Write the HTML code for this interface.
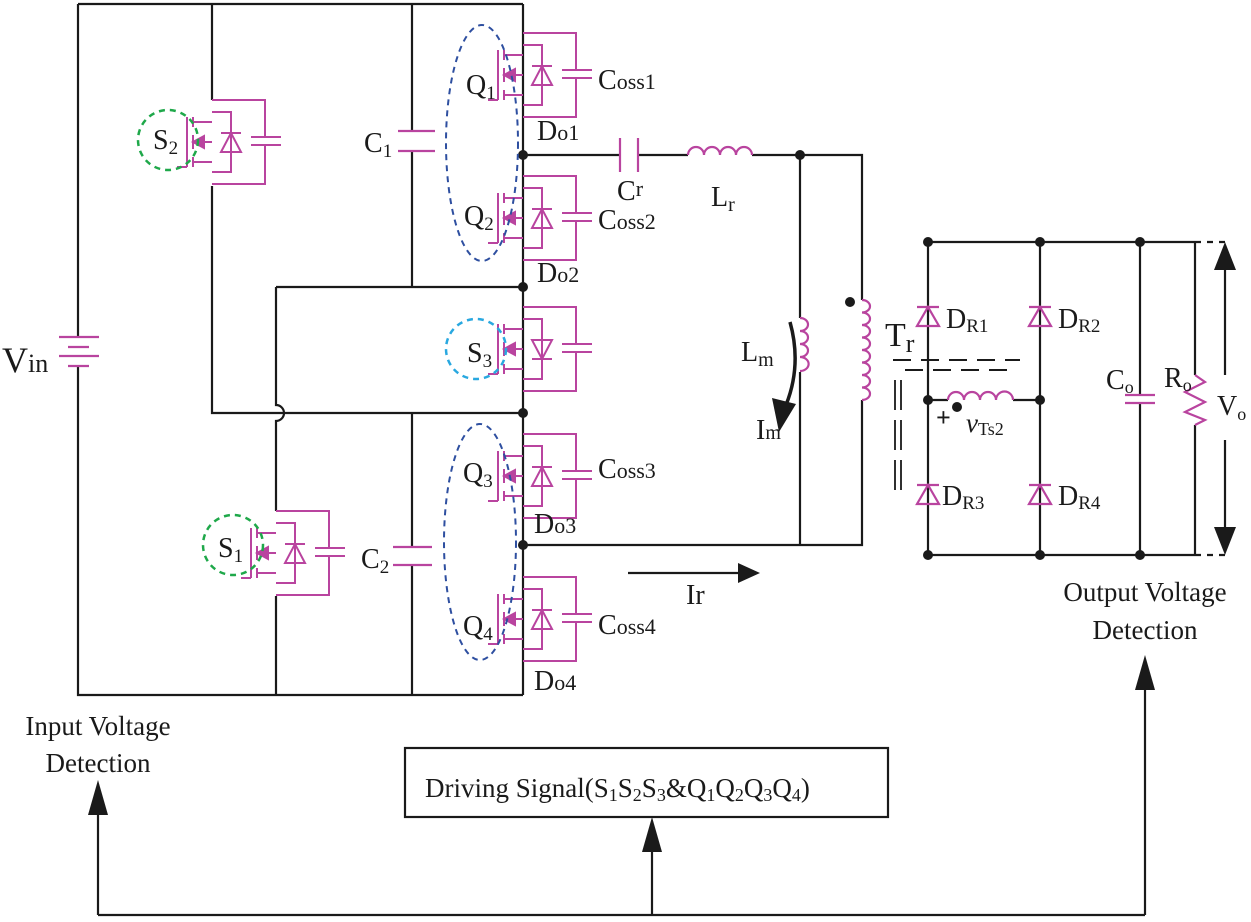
<!DOCTYPE html>
<html><head><meta charset="utf-8"><style>
html,body{margin:0;padding:0;background:#fff;}
svg{display:block;}
text{font-family:"Liberation Serif",serif;fill:#1a1a1a;}
</style></head><body>
<svg width="1251" height="922" viewBox="0 0 1251 922" xmlns="http://www.w3.org/2000/svg">
<defs>
<g id="fet" fill="none" stroke="#b9449f" stroke-width="2">
  <path d="M0,0 H53 V37 M53,45 V84 H0"/>
  <path d="M39,37 H69 M39,45 H69"/>
  <path d="M0,12 H19 V72 H0"/>
  <path d="M9,52 L29,52 L19,33 Z M9,33 H29"/>
  <path d="M-19,17 V27 M-19,35 V49 M-19,57 V67"/>
  <path d="M-25,17 V67 M-35,67 H-25"/>
  <path d="M-19,22 H0 M-19,62 H0 M0,42 H-12"/>
  <path d="M-19,42 L-8,36 L-8,48 Z" fill="#b9449f"/>
</g>
<g id="fetd" fill="none" stroke="#b9449f" stroke-width="2">
  <path d="M0,0 H53 V37 M53,45 V84 H0"/>
  <path d="M39,37 H69 M39,45 H69"/>
  <path d="M0,12 H19 V72 H0"/>
  <path d="M9,33 L29,33 L19,52 Z M9,52 H29"/>
  <path d="M-19,17 V27 M-19,35 V49 M-19,57 V67"/>
  <path d="M-25,17 V67 M-35,67 H-25"/>
  <path d="M-19,22 H0 M-19,62 H0 M0,42 H-12"/>
  <path d="M-19,42 L-8,36 L-8,48 Z" fill="#b9449f"/>
</g>
<g id="dio" fill="none" stroke="#b9449f" stroke-width="2.2">
  <path d="M-11,10 L11,10 L0,-9 Z M-11,-9 H11"/>
</g>
</defs>

<g fill="none" stroke="#1a1a1a" stroke-width="2.2">
  <path d="M78,4 H523"/>
  <path d="M78,4 V337 M78,366 V695 H523"/>
  <path d="M212,4 V100 M212,186 V413 H523"/>
  <path d="M412,4 V131 M412,151 V287"/>
  <path d="M276,287 H523"/>
  <path d="M276,287 V405 A8,8 0 0 1 276,421 V511 M276,596 V695"/>
  <path d="M412,413 V547 M412,565 V695"/>
  <path d="M523,4 V695"/>
  <path d="M523,155 H620 M638,155 H688 M752,155 H862 V300 M862,400 V545 H523"/>
  <path d="M800,155 V318 M800,372 V545"/>
  <path d="M928,242 H1195 M928,555 H1195 M928,242 V555 M1040,242 V555 M1140,242 V395 M1140,403 V555"/>
  <path d="M928,400 H948 M1013,400 H1040"/>
  <path d="M1195,242 V375 M1195,425 V555"/>
  <path d="M1195,242 H1230 M1195,555 H1230" stroke-dasharray="6,6"/>
  <path d="M1225,270 V375 M1225,440 V530"/>
  <path d="M628,573 H745"/>
  <path d="M98,915 H1145 M98,915 V815 M652,915 V850 M1145,915 V690"/>
  <rect x="405" y="748" width="483" height="69"/>
  <path d="M790,322 Q802,365 786,405" stroke-width="3.5"/>
  <path d="M893,360 H1020 M905,370 H1015" stroke-dasharray="18,10" stroke-width="2"/>
  <path d="M895,380 V410 M901,380 V410 M895,420 V450 M901,420 V450 M895,460 V490 M901,460 V490" stroke-width="1.8"/>
</g>
<g fill="#1a1a1a">
  <path d="M760,573 L738,563 L738,583 Z"/>
  <path d="M779,432 L772,398 L796,404 Z"/>
  <path d="M1225,242 L1214,270 L1236,270 Z"/>
  <path d="M1225,555 L1214,527 L1236,527 Z"/>
  <path d="M98,780 L88,815 L108,815 Z"/>
  <path d="M652,817 L642,852 L662,852 Z"/>
  <path d="M1145,655 L1135,690 L1155,690 Z"/>
  <circle cx="523" cy="155" r="5"/><circle cx="523" cy="287" r="5"/>
  <circle cx="523" cy="413" r="5"/><circle cx="523" cy="545" r="5"/>
  <circle cx="800" cy="155" r="5"/><circle cx="850" cy="302" r="5"/>
  <circle cx="928" cy="242" r="5"/><circle cx="1040" cy="242" r="5"/><circle cx="1140" cy="242" r="5"/>
  <circle cx="928" cy="555" r="5"/><circle cx="1040" cy="555" r="5"/><circle cx="1140" cy="555" r="5"/>
  <circle cx="928" cy="400" r="5"/><circle cx="1040" cy="400" r="5"/><circle cx="957" cy="407" r="5"/>
</g>

<g fill="none" stroke="#b9449f" stroke-width="2.2">
  <path d="M59,337 H99 M68,347 H89 M59,356 H99 M68,366 H89"/>
  <path d="M398,131 H435 M398,151 H435"/>
  <path d="M393,547 H432 M393,565 H432"/>
  <path d="M620,138 V172 M638,138 V172"/>
  <path d="M688,155 a8,8 0 0 1 16,0 a8,8 0 0 1 16,0 a8,8 0 0 1 16,0 a8,8 0 0 1 16,0"/>
  <path d="M948,400 a8,8 0 0 1 16,0 a8,8 0 0 1 16,0 a8,8 0 0 1 16,0 a8,8 0 0 1 17,0"/>
  <path d="M800,318 a8,6.5 0 0 1 0,13 a8,6.5 0 0 1 0,13 a8,6.5 0 0 1 0,13 a8,6.5 0 0 1 0,14"/>
  <path d="M862,300 a8,6.25 0 0 1 0,12.5 a8,6.25 0 0 1 0,12.5 a8,6.25 0 0 1 0,12.5 a8,6.25 0 0 1 0,12.5 a8,6.25 0 0 1 0,12.5 a8,6.25 0 0 1 0,12.5 a8,6.25 0 0 1 0,12.5 a8,6.25 0 0 1 0,12.5"/>
  <path d="M1125,395 H1155 M1125,403 H1155"/>
  <path d="M1195,375 L1205,382 L1185,392 L1205,402 L1185,412 L1205,420 L1195,425"/>
</g>
<use href="#dio" x="928" y="316"/><use href="#dio" x="1040" y="316"/>
<use href="#dio" x="928" y="494"/><use href="#dio" x="1040" y="494"/>

<use href="#fet" x="523" y="33"/>
<use href="#fet" x="523" y="176"/>
<use href="#fetd" x="523" y="307"/>
<use href="#fet" x="523" y="434"/>
<use href="#fet" x="523" y="577"/>
<use href="#fet" x="212" y="100"/>
<use href="#fet" x="276" y="511"/>

<g fill="none" stroke-width="2.5" stroke-dasharray="6,5">
  <ellipse cx="482" cy="143" rx="36" ry="118" stroke="#2e4fa0" stroke-width="2"/>
  <ellipse cx="480" cy="542" rx="36" ry="118" stroke="#2e4fa0" stroke-width="2"/>
  <circle cx="168" cy="140" r="30" stroke="#1fa84a"/>
  <circle cx="476" cy="349" r="30" stroke="#29a8e0"/>
  <circle cx="233" cy="545" r="30" stroke="#1fa84a"/>
</g>

<g font-size="28">
  <text x="2" y="372" font-size="36">V<tspan font-size="26">in</tspan></text>
  <text x="153" y="149">S<tspan font-size="19" dy="5">2</tspan></text>
  <text x="364" y="152">C<tspan font-size="19" dy="5">1</tspan></text>
  <text x="361" y="568">C<tspan font-size="19" dy="5">2</tspan></text>
  <text x="218" y="557">S<tspan font-size="19" dy="5">1</tspan></text>
  <text x="466" y="94">Q<tspan font-size="19" dy="5">1</tspan></text>
  <text x="464" y="225">Q<tspan font-size="19" dy="5">2</tspan></text>
  <text x="467" y="362">S<tspan font-size="19" dy="5">3</tspan></text>
  <text x="463" y="482">Q<tspan font-size="19" dy="5">3</tspan></text>
  <text x="463" y="635">Q<tspan font-size="19" dy="5">4</tspan></text>
  <text x="598" y="89">C<tspan font-size="22">oss1</tspan></text>
  <text x="598" y="229">C<tspan font-size="22">oss2</tspan></text>
  <text x="598" y="478">C<tspan font-size="22">oss3</tspan></text>
  <text x="598" y="634">C<tspan font-size="22">oss4</tspan></text>
  <text x="537" y="140">D<tspan font-size="22">o1</tspan></text>
  <text x="537" y="282">D<tspan font-size="22">o2</tspan></text>
  <text x="534" y="533">D<tspan font-size="22">o3</tspan></text>
  <text x="534" y="690">D<tspan font-size="22">o4</tspan></text>
  <text x="617" y="200">C<tspan font-size="22" dy="-4">r</tspan></text>
  <text x="711" y="206">L<tspan font-size="20" dy="5">r</tspan></text>
  <text x="741" y="361">L<tspan font-size="20" dy="5">m</tspan></text>
  <text x="756" y="439">I<tspan font-size="20">m</tspan></text>
  <text x="686" y="604">Ir</text>
  <text x="885" y="346" font-size="34">T<tspan dy="6" font-size="26">r</tspan></text>
  <text x="946" y="328">D<tspan font-size="19" dy="4">R1</tspan></text>
  <text x="1058" y="328">D<tspan font-size="19" dy="4">R2</tspan></text>
  <text x="942" y="505">D<tspan font-size="19" dy="4">R3</tspan></text>
  <text x="1058" y="505">D<tspan font-size="19" dy="4">R4</tspan></text>
  <text x="936" y="426" font-size="26" font-weight="bold">+</text>
  <text x="966" y="432" font-style="italic" font-size="27">v<tspan font-size="18" font-style="normal" dy="3">Ts2</tspan></text>
  <text x="1106" y="389">C<tspan font-size="18" dy="4">o</tspan></text>
  <text x="1164" y="387">R<tspan font-size="18" dy="4">o</tspan></text>
  <text x="1217" y="415">V<tspan font-size="18" dy="5">o</tspan></text>
  <text x="1145" y="601" text-anchor="middle" font-size="27">Output Voltage</text>
  <text x="1145" y="639" text-anchor="middle" font-size="27">Detection</text>
  <text x="98" y="735" text-anchor="middle" font-size="27">Input Voltage</text>
  <text x="98" y="772" text-anchor="middle" font-size="27">Detection</text>
  <text x="425" y="797" font-size="27">Driving Signal(S<tspan font-size="18" dy="4">1</tspan><tspan dy="-4">S</tspan><tspan font-size="18" dy="4">2</tspan><tspan dy="-4">S</tspan><tspan font-size="18" dy="4">3</tspan><tspan dy="-4">&amp;Q</tspan><tspan font-size="18" dy="4">1</tspan><tspan dy="-4">Q</tspan><tspan font-size="18" dy="4">2</tspan><tspan dy="-4">Q</tspan><tspan font-size="18" dy="4">3</tspan><tspan dy="-4">Q</tspan><tspan font-size="18" dy="4">4</tspan><tspan dy="-4">)</tspan></text>
</g>
</svg>
</body></html>
